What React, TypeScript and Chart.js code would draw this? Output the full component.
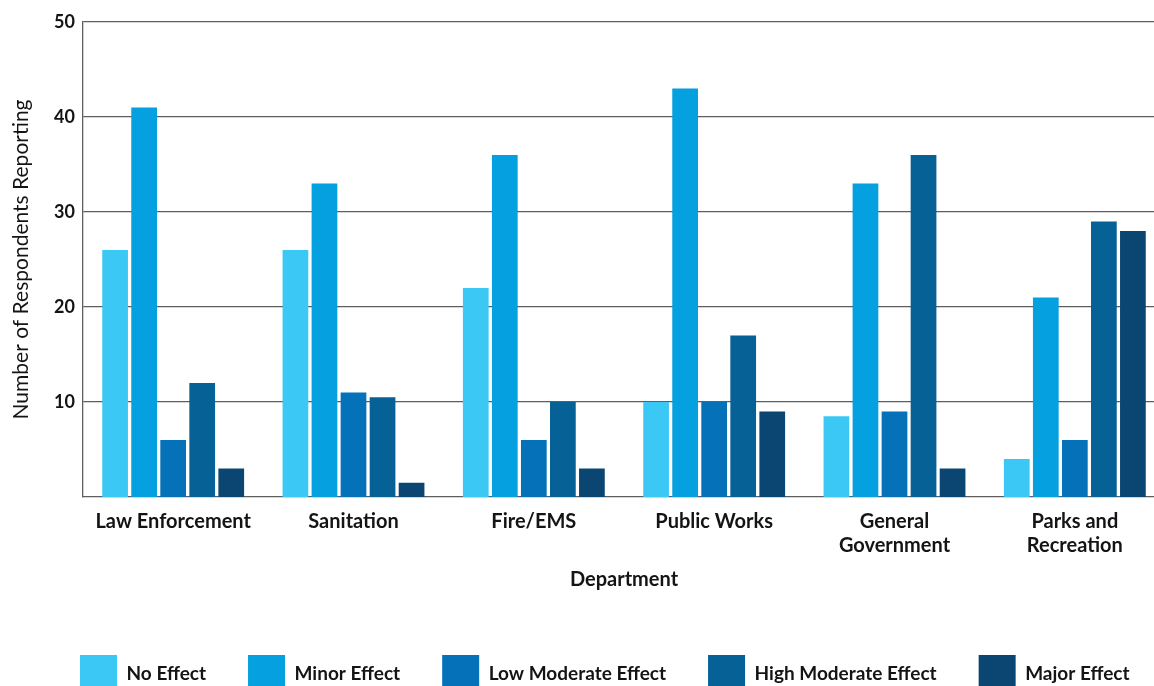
import React, { useEffect, useRef } from "react";
import { Chart, registerables } from "chart.js";

Chart.register(...registerables);

// Departments on the x axis (multi-line labels as arrays)
const departments: string[][] = [
  ["Law Enforcement"],
  ["Sanitation"],
  ["Fire/EMS"],
  ["Public Works"],
  ["General", "Government"],
  ["Parks and", "Recreation"],
];

// Respondent counts per effect level
const noEffect = [26, 26, 22, 10, 8.5, 4];
const minorEffect = [41, 33, 36, 43, 33, 21];
const lowModerateEffect = [6, 11, 6, 10, 9, 6];
const highModerateEffect = [12, 10.5, 10, 17, 36, 29];
const majorEffect = [3, 1.5, 3, 9, 3, 28];

const seriesNames = [
  "No Effect",
  "Minor Effect",
  "Low Moderate Effect",
  "High Moderate Effect",
  "Major Effect",
];
const seriesColors = ["#3bc8f4", "#04a0e0", "#0471b9", "#056196", "#0a4671"];

const yTickValues = [10, 20, 30, 40, 50];

const FONT = "Lato, 'Open Sans', sans-serif";
const TEXT = "#141414";
const GRID = "#5e5e5e";

// Moves the horizontal legend row so it starts where the page layout wants it
const legendOffset = {
  id: "legendOffset",
  afterLayout(chart: any) {
    const lg = chart.legend;
    if (lg) {
      lg.left += 38;
      lg.right += 200;
    }
  },
};

export default function App() {
  const canvasRef = useRef<HTMLCanvasElement | null>(null);

  useEffect(() => {
    if (!canvasRef.current) return;
    const values = [noEffect, minorEffect, lowModerateEffect, highModerateEffect, majorEffect];
    const chart = new Chart(canvasRef.current, {
      type: "bar",
      data: {
        labels: departments,
        datasets: values.map((data, i) => ({
          label: seriesNames[i],
          data,
          backgroundColor: seriesColors[i],
          borderWidth: 0,
          categoryPercentage: 0.805,
          barPercentage: 0.886,
        })),
      },
      options: {
        responsive: false,
        animation: false,
        devicePixelRatio: 1,
        layout: { padding: { top: 22, right: 1, left: 0, bottom: 0 } },
        plugins: {
          tooltip: { enabled: false },
          legend: {
            position: "bottom",
            align: "start",
            labels: {
              boxWidth: 37,
              boxHeight: 37,
              padding: 42,
              color: TEXT,
              font: { family: FONT, size: 19, weight: "bold" },
            },
          },
        },
        scales: {
          x: {
            grid: { display: false, drawTicks: false },
            border: { display: true, color: GRID, width: 1.3 },
            ticks: {
              padding: 13,
              color: TEXT,
              maxRotation: 0,
              autoSkip: false,
              font: { family: FONT, size: 20, weight: "bold" },
            },
            title: {
              display: true,
              text: "Department",
              color: TEXT,
              font: { family: FONT, size: 20, weight: "bold" },
              padding: { top: 0, bottom: 21 },
            },
            afterFit: (s: any) => {
              s.height = 116;
            },
          },
          y: {
            min: 0,
            max: 50,
            afterBuildTicks: (s: any) => {
              s.ticks = yTickValues.map((v) => ({ value: v }));
            },
            grid: { color: GRID, lineWidth: 1.3, drawTicks: false },
            border: { display: true, color: GRID, width: 1.3 },
            ticks: {
              padding: 8,
              color: TEXT,
              font: { family: FONT, size: 18, weight: "bold" },
            },
            title: {
              display: true,
              text: "Number of Respondents Reporting",
              color: TEXT,
              font: { family: FONT, size: 21, weight: "normal" },
              padding: { top: 9, bottom: 0 },
            },
            afterFit: (s: any) => {
              s.width = 83;
            },
          },
        },
      },
      plugins: [legendOffset],
    });
    return () => chart.destroy();
  }, []);

  return (
    <div
      style={{
        position: "fixed",
        left: 0,
        top: 0,
        width: 1154,
        height: 686,
        overflow: "hidden",
        background: "#fff",
      }}
    >
      <canvas ref={canvasRef} width={1166} height={702} />
    </div>
  );
}
